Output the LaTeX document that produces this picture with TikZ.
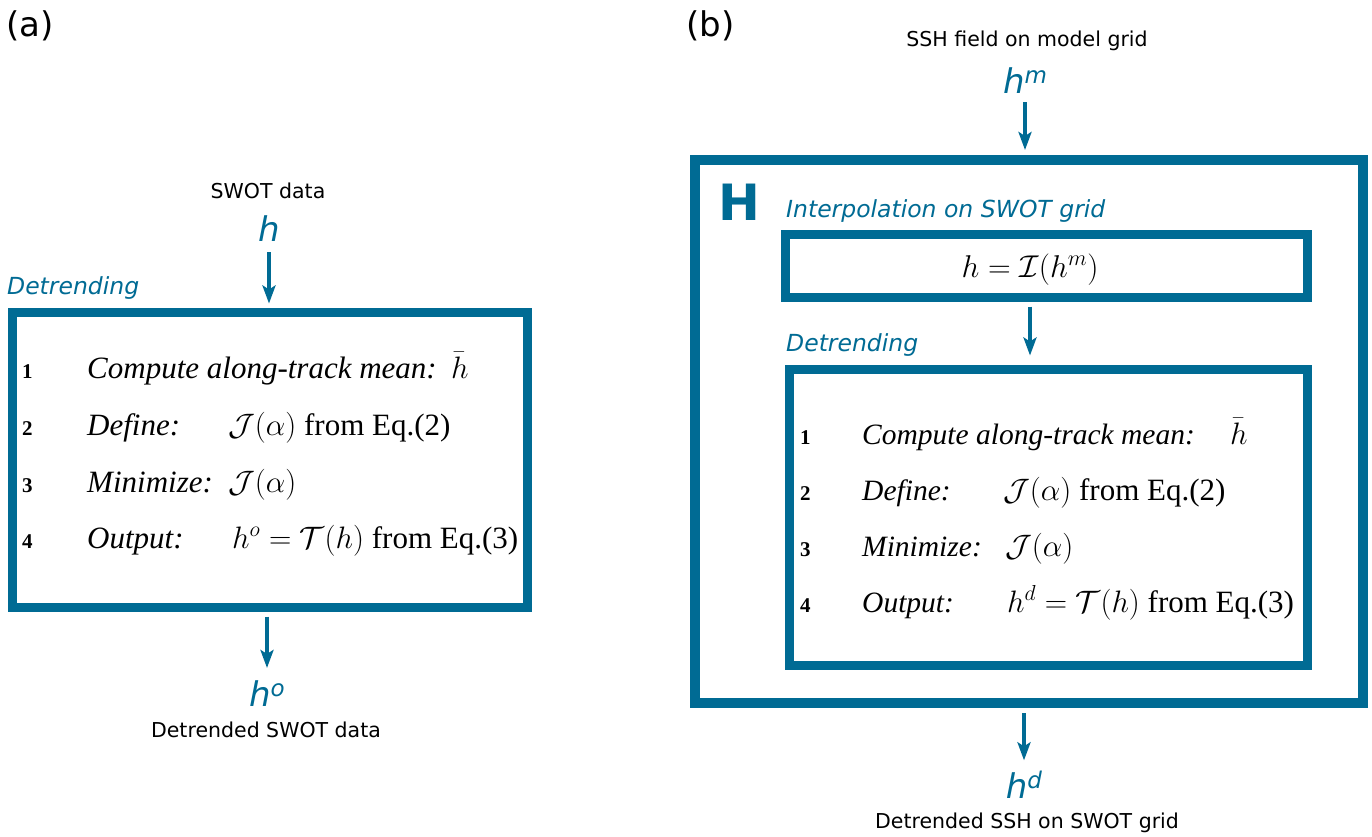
\RequirePackage{fix-cm}
\documentclass[tikz,border=0pt]{standalone}
\usepackage[no-math]{fontspec}
\usetikzlibrary{arrows.meta}
\newfontfamily\sansf{DejaVu Sans}
\newfontfamily\serf{Liberation Serif}
\definecolor{tealb}{RGB}{0,107,148}
\newcommand\vsup[2]{#1\raisebox{10pt}{\fontsize{23}{23}\selectfont #2}}
\tikzset{
  lbl/.style={inner sep=0pt, anchor=base, font=\fontsize{20.5}{24}\selectfont\sansf},
  blu/.style={inner sep=0pt, anchor=base west, text=tealb, font=\fontsize{23.5}{27}\selectfont\sansf\itshape},
  var/.style={inner sep=0pt, anchor=base, text=tealb, font=\fontsize{34}{40}\selectfont\sansf\itshape},
  panel/.style={inner sep=0pt, anchor=base west, font=\fontsize{34}{40}\selectfont\sansf},
  frame/.style={draw=tealb, line width=9pt, inner sep=0pt},
  arr/.style={draw=tealb, line width=4pt, -{Stealth[length=18pt,width=13pt,inset=4pt]}},
  num/.style={inner sep=0pt, anchor=base west, font=\fontsize{21}{24}\selectfont\serf\bfseries},
  txta/.style={inner sep=0pt, anchor=base west, font=\fontsize{31}{36}\selectfont\serf\itshape},
  mtha/.style={inner sep=0pt, anchor=base west, font=\fontsize{31}{36}\selectfont\serf},
  txtb/.style={inner sep=0pt, anchor=base west, font=\fontsize{29.5}{35}\selectfont\serf\itshape},
  mthb/.style={inner sep=0pt, anchor=base west, font=\fontsize{31}{36}\selectfont\serf},
}
\begin{document}
\begin{tikzpicture}[x=1pt,y=-1pt]
\fill[white] (0,0) rectangle (1372,836);
\useasboundingbox (0,0) rectangle (1372,836);

% ---------- panel (a)
\node[panel] (pa) at (6,36) {(a)};
\node[lbl] (swot) at (268,198) {SWOT data};
\node[var] (ha) at (269,241) {h};
\node[blu] (deta) at (7,294) {Detrending};
\node[frame, minimum width=515pt, minimum height=295pt] (boxa) at (270,460) {};

\node[num] (a1n) at (22,378) {1};
\node[txta] (a1t) at (87,378) {Compute along-track mean:};
\node[mtha] (a1m) at (451,378) {$\bar{h}$};
\node[num] (a2n) at (22,435) {2};
\node[txta] (a2t) at (87,435) {Define:};
\node[mtha] (a2m) at (228,435) {$\mathcal{J}(\alpha)$ from Eq.(2)};
\node[num] (a3n) at (22,492) {3};
\node[txta] (a3t) at (87,492) {Minimize:};
\node[mtha] (a3m) at (228,492) {$\mathcal{J}(\alpha)$};
\node[num] (a4n) at (22,548) {4};
\node[txta] (a4t) at (87,548) {Output:};
\node[mtha] (a4m) at (232,548) {$h^o=\mathcal{T}(h)$ from Eq.(3)};

\node[var] (ho) at (267,706) {\vsup{h}{o}};
\node[lbl] (dsw) at (266,737) {Detrended SWOT data};

\draw[arr, shorten <=11pt, shorten >=4.5pt] (ha.south) -- (ha.south |- boxa.north);
\draw[arr, shorten <=4.5pt, shorten >=12pt] (boxa.south -| ho.north) -- (ho.north);

% ---------- panel (b)
\node[panel] (pb) at (686,36) {(b)};
\node[lbl] (ssh) at (1027,46) {SSH field on model grid};
\node[var] (hm) at (1025,93) {\vsup{h}{m}};
\node[frame, line width=10pt, minimum width=668pt, minimum height=543pt] (outb) at (1029,431.5) {};
\node[inner sep=0pt, anchor=base west, text=tealb, font=\fontsize{50}{56}\selectfont\sansf\bfseries] (bigH) at (718,220) {H};
\node[blu] (inter) at (786,217) {Interpolation on SWOT grid};
\node[frame, minimum width=522pt, minimum height=63pt] (ibox) at (1046.5,266) {};
\node[inner sep=0pt, anchor=base, font=\fontsize{31.5}{36}\selectfont] (eqi) at (1030,277) {$h=\mathcal{I}(h^m)$};
\node[blu] (detb) at (786,351) {Detrending};
\node[frame, minimum width=518pt, minimum height=296pt] (dbox) at (1048.5,517.5) {};

\node[num] (b1n) at (800,444) {1};
\node[txtb] (b1t) at (862,444) {Compute along-track mean:};
\node[mthb] (b1m) at (1230,444) {$\bar{h}$};
\node[num] (b2n) at (800,500) {2};
\node[txtb] (b2t) at (862,500) {Define:};
\node[mthb] (b2m) at (1003,500) {$\mathcal{J}(\alpha)$ from Eq.(2)};
\node[num] (b3n) at (800,556) {3};
\node[txtb] (b3t) at (862,556) {Minimize:};
\node[mthb] (b3m) at (1005,556) {$\mathcal{J}(\alpha)$};
\node[num] (b4n) at (800,612) {4};
\node[txtb] (b4t) at (862,612) {Output:};
\node[mthb] (b4m) at (1007,612) {$h^d=\mathcal{T}(h)$ from Eq.(3)};

\node[var] (hd) at (1024,798) {\vsup{h}{d}};
\node[lbl] (dssh) at (1027,828) {Detrended SSH on SWOT grid};

\draw[arr, shorten <=9pt, shorten >=5pt] (hm.south) -- (hm.south |- outb.north);
\draw[arr, shorten <=4.5pt, shorten >=9.5pt] (ibox.south -| eqi.base) -- (dbox.north -| eqi.base);
\draw[arr, shorten <=5pt, shorten >=10pt] (outb.south -| hd.north) -- (hd.north);
\end{tikzpicture}
\end{document}
